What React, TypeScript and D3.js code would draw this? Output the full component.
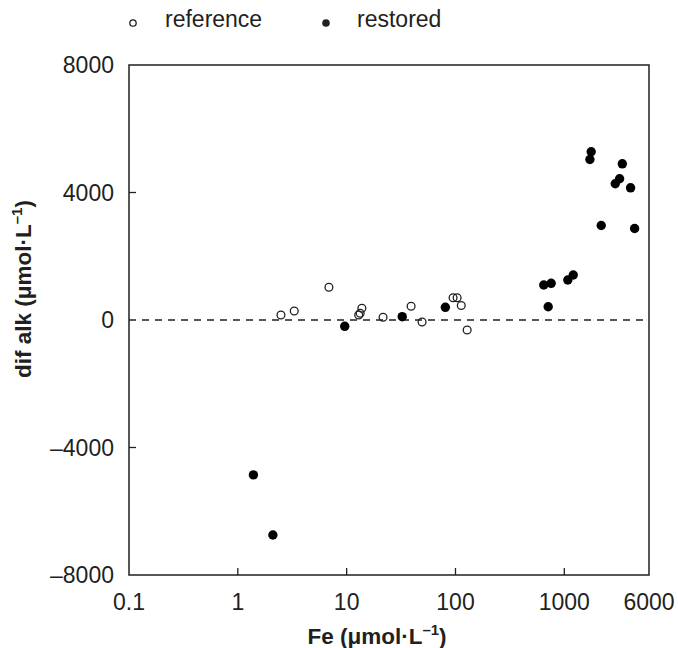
import React from "react";
import * as d3 from "d3";

// Fe (µmol/L) and dif alk (µmol/L)
const referenceFe = [2.49, 3.3, 6.87, 12.9, 13.3, 13.8, 21.6, 39.1, 49.3, 95, 103.5, 113, 128];
const referenceAlk = [157, 282, 1026, 157, 210, 370, 85, 433, -63, 700, 700, 455, -314];

const restoredFe = [1.39, 2.1, 9.6, 32.4, 80.7, 647, 757, 1077, 1208, 711, 1766, 1718, 3412, 2938, 3222, 4064, 2183, 4426];
const restoredAlk = [-4860, -6745, -198, 104, 398, 1098, 1151, 1255, 1412, 417, 5280, 5035, 4900, 4273, 4430, 4147, 2965, 2870];

const xTickValues = [0.1, 1, 10, 100, 1000, 6000];
const xTickLabels = ["0.1", "1", "10", "100", "1000", "6000"];
const yTickValues = [-8000, -4000, 0, 4000, 8000];
const yTickLabels = ["–8000", "–4000", "0", "4000", "8000"];

const W = 678;
const H = 648;
const FONT = "'Liberation Sans', Arial, Helvetica, sans-serif";
const INK = "#231f20";

export default function App() {
  const x = d3.scaleLog().domain([0.1, 6000]).range([129, 649]);
  const y = d3.scaleLinear().domain([-8000, 8000]).range([575, 65]);

  const [x0, x1] = x.range();
  const [y0, y1] = y.range();

  const ref = referenceFe.map((v, i) => ({ fe: v, alk: referenceAlk[i] }));
  const res = restoredFe.map((v, i) => ({ fe: v, alk: restoredAlk[i] }));

  return (
    <svg
      width={W}
      height={H}
      style={{ position: "absolute", left: 0, top: 0, background: "#fff" }}
      fontFamily={FONT}
    >
      {/* legend */}
      <circle cx={133} cy={23} r={3.2} fill="#fff" stroke={INK} strokeWidth={1.3} />
      <text x={165} y={27} fontSize={23} fill={INK}>reference</text>
      <circle cx={326} cy={23} r={3.8} fill={INK} />
      <text x={357} y={27} fontSize={23} fill={INK}>restored</text>

      {/* zero line */}
      <line x1={x0} x2={x1} y1={y(0)} y2={y(0)} stroke={INK} strokeWidth={1.5} strokeDasharray="7,6" />

      {/* frame */}
      <rect x={x0} y={y1} width={x1 - x0} height={y0 - y1} fill="none" stroke={INK} strokeWidth={1.5} />

      {/* x ticks */}
      {xTickValues.map((v, i) => (
        <g key={"xt" + i}>
          {i > 0 && i < xTickValues.length - 1 && (
            <line x1={x(v)} x2={x(v)} y1={y0} y2={y0 - 7} stroke={INK} strokeWidth={1.3} />
          )}
          <text x={x(v)} y={y0 + 35} fontSize={23} textAnchor="middle" fill={INK}>
            {xTickLabels[i]}
          </text>
        </g>
      ))}

      {/* y ticks */}
      {yTickValues.map((v, i) => (
        <g key={"yt" + i}>
          {v !== 0 && Math.abs(v) !== 8000 && (
            <line x1={x0} x2={x0 + 7} y1={y(v)} y2={y(v)} stroke={INK} strokeWidth={1.3} />
          )}
          <text x={x0 - 15} y={y(v)} dy="0.35em" fontSize={23} textAnchor="end" fill={INK}>
            {yTickLabels[i]}
          </text>
        </g>
      ))}

      {/* axis titles */}
      <text x={377} y={644} fontSize={22.5} fontWeight="bold" textAnchor="middle" fill={INK}>
        Fe (μmol·L<tspan fontSize={15} dy={-9}>–1</tspan>
        <tspan dy={9}>)</tspan>
      </text>
      <text
        transform={`translate(31,${289}) rotate(-90)`}
        fontSize={22.5}
        fontWeight="bold"
        textAnchor="middle"
        fill={INK}
      >
        dif alk (μmol·L<tspan fontSize={15} dy={-9}>–1</tspan>
        <tspan dy={9}>)</tspan>
      </text>

      {/* points */}
      {ref.map((d, i) => (
        <circle
          key={"r" + i}
          cx={x(d.fe)}
          cy={y(d.alk)}
          r={3.9}
          fill="#fff"
          fillOpacity={0}
          stroke={INK}
          strokeWidth={1.3}
        />
      ))}
      {res.map((d, i) => (
        <circle key={"s" + i} cx={x(d.fe)} cy={y(d.alk)} r={4.7} fill="#000" />
      ))}
    </svg>
  );
}
